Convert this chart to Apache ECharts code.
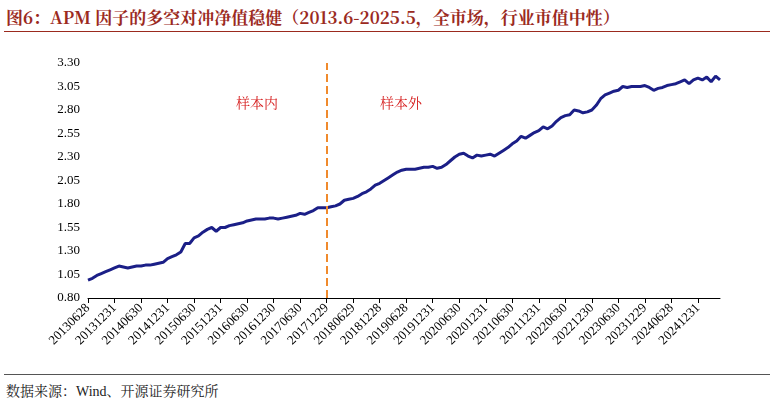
<!DOCTYPE html>
<html>
<head>
<meta charset="UTF-8">
<script src="https://cdn.jsdelivr.net/npm/echarts@6/dist/echarts.min.js"></script>
</head>
<body style="margin:0;background:#fff;width:774px;height:405px;overflow:hidden">
<div style="position:absolute;left:6px;top:4px;font:bold 17px 'Noto Serif CJK SC','Noto Sans CJK SC',serif;color:#9b2a1e;white-space:nowrap">图6：APM 因子的多空对冲净值稳健（2013.6-2025.5，全市场，行业市值中性）</div>
<div style="position:absolute;left:4px;top:31px;width:766px;border-top:1.5px solid #9b2a1e"></div>
<div style="position:absolute;left:4px;top:374px;width:766px;border-top:1px solid #555"></div>
<div style="position:absolute;left:6px;top:380px;font:14px 'Liberation Serif','Noto Serif CJK SC','Noto Sans CJK SC',serif;color:#222">数据来源：Wind、开源证券研究所</div>
<div id="chart" style="position:absolute;left:0;top:0;width:774px;height:405px"></div>
<script type="text/javascript">
    var tickLabels = ['20130628','20131231','20140630','20141231','20150630','20151231','20160630','20161230',
        '20170630','20171229','20180629','20181228','20190628','20191231','20200630','20201231','20210630',
        '20211231','20220630','20221230','20230630','20231229','20240628','20241231'];
    var values = [
        0.99,1.01,1.04,1.06,1.08,1.10,1.12,
        1.14,1.13,1.12,1.13,1.14,1.14,1.15,1.15,1.16,1.17,1.18,1.22,
        1.24,1.26,1.29,1.38,1.38,1.44,1.46,1.50,1.53,1.55,1.51,1.55,
        1.55,1.57,1.58,1.59,1.60,1.62,1.63,1.64,1.64,1.64,1.65,1.65,
        1.64,1.65,1.66,1.67,1.68,1.70,1.69,1.71,1.73,1.76,1.76,1.76,
        1.77,1.78,1.80,1.84,1.85,1.86,1.88,1.91,1.93,1.96,2.00,2.02,
        2.05,2.08,2.11,2.14,2.16,2.17,2.17,2.17,2.18,2.19,2.19,2.20,
        2.18,2.19,2.22,2.26,2.30,2.33,2.34,2.31,2.29,2.32,2.31,2.32,
        2.33,2.31,2.34,2.37,2.40,2.44,2.47,2.52,2.50,2.53,2.56,2.58,
        2.62,2.60,2.63,2.68,2.72,2.74,2.75,2.80,2.79,2.77,2.78,2.80,
        2.85,2.92,2.96,2.98,3.00,3.01,3.05,3.04,3.05,3.05,3.05,3.06,
        3.04,3.01,3.03,3.04,3.06,3.07,3.08,3.10,3.12,3.08,3.12,3.14,
        3.12,3.15,3.10,3.16,3.12
    ];
    var splitIndex = 54;

    // monthly categories, 2013-06 .. 2025-05
    var categories = [];
    for (var i = 0; i < values.length; i++) {
        var m = 5 + i;
        var y = 2013 + Math.floor(m / 12);
        var mm = (m % 12) + 1;
        categories.push(i % 6 === 0 ? tickLabels[i / 6] : y + (mm < 10 ? '0' : '') + mm);
    }

    var chart = echarts.init(document.getElementById('chart'));
    chart.setOption({
        animation: false,
        grid: {left: 88, right: 54, top: 63, bottom: 107},
        xAxis: {
            type: 'category',
            data: categories,
            boundaryGap: false,
            axisLine: {lineStyle: {color: '#000'}},
            axisTick: {show: true, interval: 5, lineStyle: {color: '#000'}},
            axisLabel: {
                interval: 5, rotate: 45, color: '#000', fontSize: 13,
                fontFamily: "'Liberation Serif',serif"
            }
        },
        yAxis: {
            type: 'value',
            min: 0.8, max: 3.3, interval: 0.25,
            splitLine: {show: false},
            axisLine: {show: false},
            axisTick: {show: false},
            axisLabel: {
                color: '#000', fontSize: 13, fontFamily: "'Liberation Serif',serif",
                formatter: function (v) { return v.toFixed(2); }
            }
        },
        series: [{
            type: 'line',
            data: values,
            symbol: 'none',
            lineStyle: {color: '#1b1f87', width: 3},
            markLine: {
                silent: true,
                symbol: 'none',
                label: {show: false},
                lineStyle: {color: '#f08a2c', type: 'dashed', width: 2},
                data: [{xAxis: splitIndex}]
            }
        }],
        graphic: [
            {type: 'text', left: 236, top: 96, style: {text: '样本内', fill: '#d62020', font: "14px 'Noto Serif CJK SC','Noto Sans CJK SC',serif"}},
            {type: 'text', left: 380, top: 96, style: {text: '样本外', fill: '#d62020', font: "14px 'Noto Serif CJK SC','Noto Sans CJK SC',serif"}}
        ]
    });
</script>
</body>
</html>
